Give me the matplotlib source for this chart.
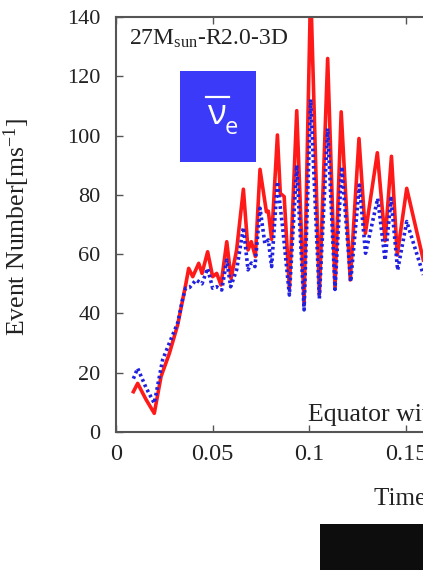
import matplotlib
matplotlib.use("Agg")
import matplotlib.pyplot as plt
from matplotlib.patches import Rectangle
from matplotlib.lines import Line2D

# ---- data ----
t_red = [0.009, 0.0112, 0.0155, 0.0198, 0.0233, 0.0276, 0.0319, 0.0362, 0.0376, 0.0397,
         0.0428, 0.0445, 0.0474, 0.0500, 0.0521, 0.0543, 0.0573, 0.0595, 0.0624, 0.0659,
         0.0683, 0.0700, 0.0721, 0.0745, 0.0778, 0.0788, 0.0805, 0.0835, 0.0850, 0.0870,
         0.0897, 0.0935, 0.0973, 0.1007, 0.1052, 0.1095, 0.1133, 0.1165, 0.1212, 0.1257,
         0.1290, 0.1352, 0.1392, 0.1425, 0.1455, 0.1504, 0.1590]
red = [13.6, 16.4, 11.0, 6.3, 18.7, 26.5, 36.1, 50.2, 55.2, 52.4,
       56.9, 53.5, 60.8, 52.4, 53.5, 49.6, 64.2, 51.8, 61.4, 81.9,
       61.4, 64.2, 59.2, 88.6, 74.3, 74.5, 65.0, 100.2, 80.5, 79.4,
       48.5, 108.4, 43.0, 150.0, 46.5, 126.0, 48.8, 108.0, 51.3, 99.0,
       67.0, 94.2, 64.5, 93.0, 59.7, 82.2, 58.0]

t_blue = [0.009, 0.0112, 0.0155, 0.0198, 0.0241, 0.0276, 0.032, 0.0345, 0.036, 0.038,
          0.0414, 0.0445, 0.0474, 0.05, 0.0521, 0.0547, 0.0573, 0.0593, 0.0624, 0.0659,
          0.0683, 0.07, 0.0719, 0.0745, 0.077, 0.0788, 0.0805, 0.0835, 0.0862, 0.0897,
          0.0935, 0.0973, 0.1007, 0.1052, 0.1095, 0.1133, 0.1168, 0.1214, 0.1259, 0.1291,
          0.1354, 0.1392, 0.1423, 0.1457, 0.1504, 0.159]
blue = [18.0, 21.5, 15.0, 9.7, 24.3, 30.0, 37.0, 45.0, 48.5, 48.7,
        51.3, 50.0, 55.2, 48.5, 49.0, 47.9, 58.0, 49.0, 54.7, 69.0,
        54.7, 57.0, 55.8, 75.5, 63.6, 64.8, 55.8, 84.4, 69.0, 46.2,
        90.0, 41.2, 112.2, 45.0, 102.4, 48.1, 89.5, 50.7, 83.3, 60.3,
        78.8, 58.0, 78.8, 54.6, 71.0, 53.0]

xticks = [0, 0.05, 0.1, 0.15, 0.2]
xticklabels = ["0", "0.05", "0.1", "0.15", "0.2"]
yticks = [0, 20, 40, 60, 80, 100, 120, 140]

W, H = 423, 570
plt.rcParams["font.family"] = ["Liberation Serif", "DejaVu Serif"]
plt.rcParams["mathtext.fontset"] = "custom"
plt.rcParams["mathtext.rm"] = "Liberation Serif"
plt.rcParams["mathtext.it"] = "Liberation Serif:italic"
fig = plt.figure(figsize=(W / 100, H / 100), dpi=100)

left = 116 / W
bottom = (H - 432) / H
height = 415 / H
width = 0.2 * 1933 / W
ax = fig.add_axes([left, bottom, width, height])

ax.plot(t_red, red, color="#ff1a1a", lw=2.6, zorder=2)
ax.plot(t_blue, blue, color="#2020e0", lw=2.6, ls=(0, (0.75, 0.85)), zorder=3)

ax.set_xlim(0, 0.2)
ax.set_ylim(0, 140)
ax.set_xticks(xticks)
ax.set_xticklabels(xticklabels)
ax.set_yticks(yticks)
ax.tick_params(direction="in", length=5, width=1, colors="#555555", labelcolor="#222222",
               top=True, right=True)
ax.tick_params(axis="x", labelsize=17.5, pad=9)
ax.tick_params(axis="y", labelsize=16, pad=11)
for s in ax.spines.values():
    s.set_color("#555555")
    s.set_linewidth(1.5)

fig.text(17 / W, 1 - 227 / H, "Event Number[ms$^{-1}$]", fontsize=18.5, color="#222222",
         rotation=90, ha="center", va="center")

ax.text(0.0067, 130.6, r"27M$_{\mathrm{sun}}$-R2.0-3D", fontsize=17, color="#222222",
        va="baseline", ha="left")
ax.text(0.0993, 3.8, "Equator with", fontsize=18.5, color="#222222", ha="left", va="baseline")

fig.text(374 / W, 1 - 505 / H, "Time [s]", fontsize=18, color="#222222", ha="left",
         va="baseline")

# blue label box
fig.patches.append(Rectangle((180 / W, 1 - 162 / H), 76 / W, 91 / H, transform=fig.transFigure,
                             facecolor="#3a3af8", edgecolor="none", zorder=5))
fig.text(217.5 / W, 1 - 124 / H, "ν", fontsize=25, color="white", family="Open Sans",
         ha="center", va="baseline", zorder=6)
fig.text(231.5 / W, 1 - 134 / H, "e", fontsize=17, color="white", family="Open Sans",
         ha="center", va="baseline", zorder=6)
fig.lines.append(Line2D([205.5 / W, 228.5 / W], [1 - 96.7 / H, 1 - 96.7 / H],
                        transform=fig.transFigure, color="white", lw=1.6, zorder=6))

# black block bottom right
fig.patches.append(Rectangle((320 / W, 0), 103 / W, 46 / H, transform=fig.transFigure,
                             facecolor="#0d0d0d", edgecolor="none", zorder=5))

fig.savefig("out.png", dpi=100)
